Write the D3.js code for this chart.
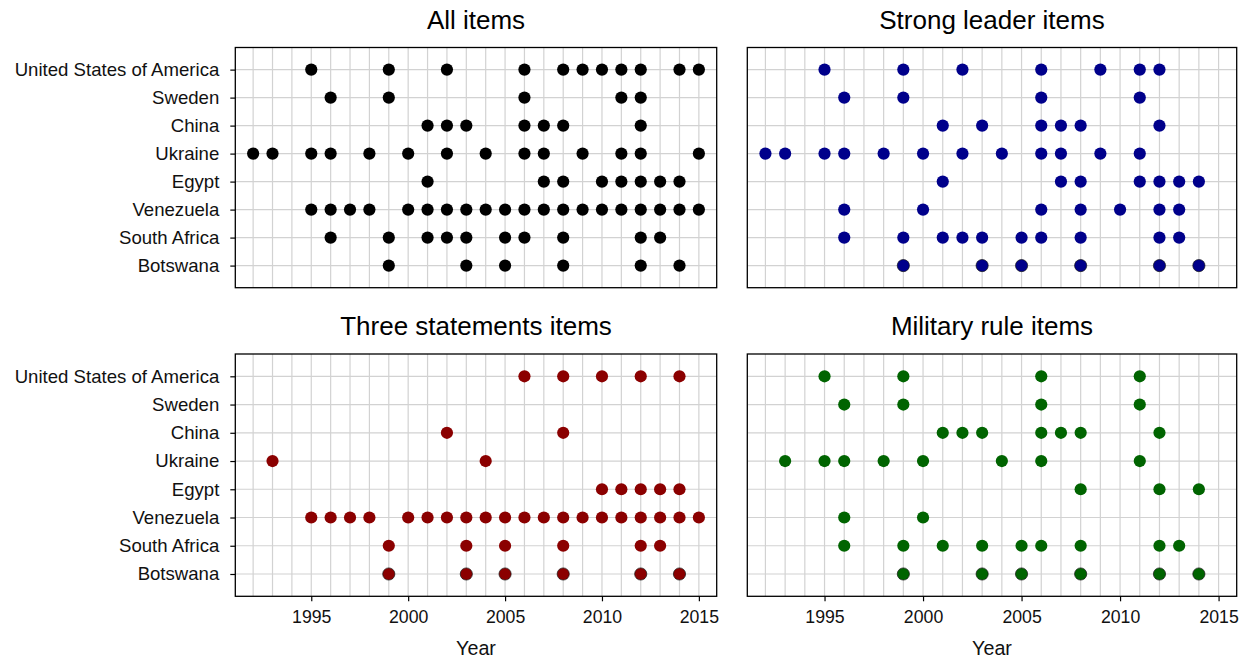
<!DOCTYPE html>
<html>
<head>
<meta charset="utf-8">
<script src="https://cdn.jsdelivr.net/npm/d3@7"></script>
<style>
  html, body { margin: 0; padding: 0; background: #ffffff; }
  svg { display: block; font-family: "Liberation Sans", Arial, Helvetica, sans-serif; }
</style>
</head>
<body>
<script>
// Countries, top row first
const countries = [
  "United States of America", "Sweden", "China", "Ukraine",
  "Egypt", "Venezuela", "South Africa", "Botswana"
];

// Survey years per country (same order as countries)
const allItemsYears = [
  [1995, 1999, 2002, 2006, 2008, 2009, 2010, 2011, 2012, 2014, 2015],
  [1996, 1999, 2006, 2011, 2012],
  [2001, 2002, 2003, 2006, 2007, 2008, 2012],
  [1992, 1993, 1995, 1996, 1998, 2000, 2002, 2004, 2006, 2007, 2009, 2011, 2012, 2015],
  [2001, 2007, 2008, 2010, 2011, 2012, 2013, 2014],
  [1995, 1996, 1997, 1998, 2000, 2001, 2002, 2003, 2004, 2005, 2006, 2007, 2008, 2009, 2010, 2011, 2012, 2013, 2014, 2015],
  [1996, 1999, 2001, 2002, 2003, 2005, 2006, 2008, 2012, 2013],
  [1999, 2003, 2005, 2008, 2012, 2014]
];

const strongLeaderYears = [
  [1995, 1999, 2002, 2006, 2009, 2011, 2012],
  [1996, 1999, 2006, 2011],
  [2001, 2003, 2006, 2007, 2008, 2012],
  [1992, 1993, 1995, 1996, 1998, 2000, 2002, 2004, 2006, 2007, 2009, 2011],
  [2001, 2007, 2008, 2011, 2012, 2013, 2014],
  [1996, 2000, 2006, 2008, 2010, 2012, 2013],
  [1996, 1999, 2001, 2002, 2003, 2005, 2006, 2008, 2012, 2013],
  [1999, 2003, 2005, 2008, 2012, 2014]
];

const threeStatementsYears = [
  [2006, 2008, 2010, 2012, 2014],
  [],
  [2002, 2008],
  [1993, 2004],
  [2010, 2011, 2012, 2013, 2014],
  [1995, 1996, 1997, 1998, 2000, 2001, 2002, 2003, 2004, 2005, 2006, 2007, 2008, 2009, 2010, 2011, 2012, 2013, 2014, 2015],
  [1999, 2003, 2005, 2008, 2012, 2013],
  [1999, 2003, 2005, 2008, 2012, 2014]
];

const militaryRuleYears = [
  [1995, 1999, 2006, 2011],
  [1996, 1999, 2006, 2011],
  [2001, 2002, 2003, 2006, 2007, 2008, 2012],
  [1993, 1995, 1996, 1998, 2000, 2004, 2006, 2011],
  [2008, 2012, 2014],
  [1996, 2000],
  [1996, 1999, 2001, 2003, 2005, 2006, 2008, 2012, 2013],
  [1999, 2003, 2005, 2008, 2012, 2014]
];

const panelTitles = ["All items", "Strong leader items", "Three statements items", "Military rule items"];
const yearTicks = [1995, 2000, 2005, 2010, 2015];
const yearDomain = [1992, 2015];
const xLabel = "Year";

// Layout of the 2x2 grid of panels
const W = 1247, H = 660;
const panels = [
  { title: panelTitles[0], years: allItemsYears,        color: "#000000", x0: 235.3, x1: 716.7,  y0: 47.5, y1: 287.7, left: true,  bottom: false },
  { title: panelTitles[1], years: strongLeaderYears,    color: "#00008B", x0: 747.3, x1: 1236.7, y0: 47.5, y1: 287.7, left: false, bottom: false },
  { title: panelTitles[2], years: threeStatementsYears, color: "#8B0000", x0: 235.3, x1: 716.7,  y0: 354,  y1: 596.3, left: true,  bottom: true },
  { title: panelTitles[3], years: militaryRuleYears,    color: "#006400", x0: 747.3, x1: 1236.7, y0: 354,  y1: 596.3, left: false, bottom: true }
];

const svg = d3.select("body").append("svg")
  .attr("width", W).attr("height", H);

const span = yearDomain[1] - yearDomain[0];
const pad = span * 0.04;
const gridYears = d3.range(yearDomain[0], yearDomain[1] + 1);

panels.forEach((p, pi) => {
  const x = d3.scaleLinear()
    .domain([yearDomain[0] - pad, yearDomain[1] + pad])
    .range([p.x0, p.x1]);
  const y = d3.scalePoint()
    .domain(countries)
    .range([p.y0, p.y1])
    .padding(0.79);

  const g = svg.append("g").attr("class", "panel");

  // panel background
  g.append("rect")
    .attr("x", p.x0).attr("y", p.y0)
    .attr("width", p.x1 - p.x0).attr("height", p.y1 - p.y0)
    .attr("fill", "#ffffff");

  // grid lines
  g.append("g").selectAll("line.vg").data(gridYears).join("line")
    .attr("x1", d => x(d)).attr("x2", d => x(d))
    .attr("y1", p.y0).attr("y2", p.y1)
    .attr("stroke", "#d2d2d2").attr("stroke-width", 1.2);
  g.append("g").selectAll("line.hg").data(countries).join("line")
    .attr("x1", p.x0).attr("x2", p.x1)
    .attr("y1", d => y(d)).attr("y2", d => y(d))
    .attr("stroke", "#d2d2d2").attr("stroke-width", 1.2);

  // points
  const pts = [];
  countries.forEach((c, ci) => {
    p.years[ci].forEach(yr => pts.push({ country: c, year: yr }));
  });
  g.append("g").selectAll("circle").data(pts).join("circle")
    .attr("cx", d => x(d.year))
    .attr("cy", d => y(d.country))
    .attr("r", 6.1)
    .attr("fill", p.color)
    .attr("stroke", d => (d.country === "Botswana" && pi > 0) ? "#111111" : "none")
    .attr("stroke-opacity", 0.75)
    .attr("stroke-width", 0.9);

  // panel border
  g.append("rect")
    .attr("x", p.x0).attr("y", p.y0)
    .attr("width", p.x1 - p.x0).attr("height", p.y1 - p.y0)
    .attr("fill", "none").attr("stroke", "#000000").attr("stroke-width", 1.3);

  // title
  svg.append("text")
    .attr("x", (p.x0 + p.x1) / 2)
    .attr("y", p.y0 - 19)
    .attr("text-anchor", "middle")
    .attr("font-size", 26)
    .attr("fill", "#000000")
    .text(p.title);

  // y axis (left column only)
  if (p.left) {
    const ay = svg.append("g")
      .attr("transform", `translate(${p.x0},0)`)
      .call(d3.axisLeft(y).tickSize(5).tickSizeOuter(0).tickPadding(11));
    ay.select(".domain").remove();
    ay.selectAll(".tick line").attr("stroke", "#000000").attr("stroke-width", 1.2);
    ay.selectAll(".tick text")
      .attr("font-size", 18.6)
      .attr("font-family", "Liberation Sans, Arial, sans-serif")
      .attr("fill", "#111111");
  }

  // x axis (bottom row only)
  if (p.bottom) {
    const ax = svg.append("g")
      .attr("transform", `translate(0,${p.y1})`)
      .call(d3.axisBottom(x).tickValues(yearTicks).tickFormat(d3.format("d"))
        .tickSize(5).tickSizeOuter(0).tickPadding(9));
    ax.select(".domain").remove();
    ax.selectAll(".tick line").attr("stroke", "#000000").attr("stroke-width", 1.2);
    ax.selectAll(".tick text")
      .attr("font-size", 17.7)
      .attr("font-family", "Liberation Sans, Arial, sans-serif")
      .attr("fill", "#111111");

    svg.append("text")
      .attr("x", (p.x0 + p.x1) / 2)
      .attr("y", 655)
      .attr("text-anchor", "middle")
      .attr("font-size", 19.7)
      .attr("fill", "#111111")
      .text(xLabel);
  }
});
</script>
</body>
</html>
